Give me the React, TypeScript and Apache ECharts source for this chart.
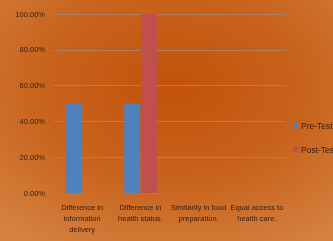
import React, { useEffect, useRef } from "react";
import * as echarts from "echarts";

const categories = [
  "Difference in\ninformation\ndelivery",
  "Difference in\nhealth status.",
  "Similarity in food\npreparation.",
  "Equal access to\nhealth care.",
];
const preTest = [50, 50, 0, 0];
const postTest = [0, 100, 0, 0];
const seriesNames = ["Pre-Test", "Post-Test"];

const FONT = "'Liberation Sans Narrow', 'Liberation Sans', sans-serif";

export default function App() {
  const ref = useRef<HTMLDivElement>(null);
  useEffect(() => {
    if (!ref.current) return;
    const chart = echarts.init(ref.current, undefined, { renderer: "svg" });
    chart.setOption({
      animation: false,
      backgroundColor: new echarts.graphic.RadialGradient(0.52, 0.36, 0.75, [
        { offset: 0, color: "#c3520a" },
        { offset: 0.55, color: "#c8641d" },
        { offset: 1, color: "#d4803f" },
      ]),
      grid: { left: 53, right: 47, top: 14, bottom: 48, containLabel: false },
      legend: {
        orient: "vertical",
        left: 288,
        top: 116,
        itemWidth: 5,
        itemHeight: 6,
        itemGap: 15,
        icon: "rect",
        textStyle: { fontFamily: FONT, fontSize: 8.5, color: "#3a2010", padding: [0, 0, 0, -2] },
        data: seriesNames,
      },
      xAxis: {
        type: "category",
        data: categories,
        axisLine: { lineStyle: { color: "#a27a62", width: 1 } },
        axisTick: { show: true, length: 3, lineStyle: { color: "#a27a62" } },
        axisLabel: {
          fontFamily: FONT,
          fontSize: 7.5,
          color: "#3a2010",
          lineHeight: 11,
          margin: 9,
          interval: 0,
        },
      },
      yAxis: {
        type: "value",
        min: 0,
        max: 100,
        interval: 20,
        axisLine: { show: false },
        axisTick: { show: false },
        splitLine: { lineStyle: { color: "#ab8064", width: 1 } },
        axisLabel: {
          fontFamily: FONT,
          fontSize: 7.5,
          color: "#3a2010",
          margin: 8,
          formatter: (v: number) => v.toFixed(2) + "%",
        },
      },
      series: [
        {
          name: seriesNames[0],
          type: "bar",
          data: preTest,
          barWidth: 16,
          barGap: "6%",
          itemStyle: { color: "#4f81bd" },
        },
        {
          name: seriesNames[1],
          type: "bar",
          data: postTest,
          barWidth: 16,
          barGap: "6%",
          itemStyle: { color: "#c0504d" },
        },
      ],
    });
    return () => chart.dispose();
  }, []);
  return (
    <div
      ref={ref}
      style={{ position: "fixed", left: 0, top: 0, width: 333, height: 241 }}
    />
  );
}
